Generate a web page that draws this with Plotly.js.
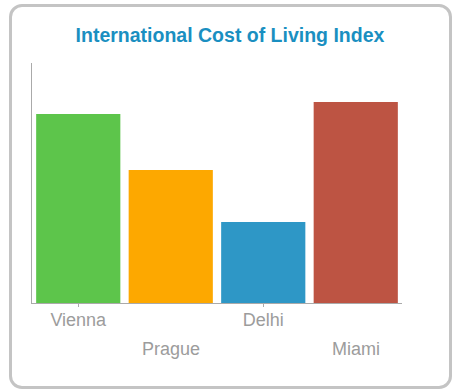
<!DOCTYPE html>
<html>
<head>
<meta charset="utf-8">
<script src="https://cdn.plot.ly/plotly-3.0.1.min.js"></script>
<style>
  html, body { margin: 0; padding: 0; background: #fff; }
  #wrap { position: relative; width: 460px; height: 392px; }
  #chart { position: absolute; left: 0; top: 0; width: 460px; height: 392px; }
  #frame { position: absolute; left: 9px; top: 4px; width: 437px; height: 379px;
           border: 3px solid #c4c4c4; border-radius: 13px; pointer-events: none; }
</style>
</head>
<body>
<div id="wrap">
  <div id="chart"></div>
  <div id="frame"></div>
</div>
<script>
const cities = ['Vienna', 'Prague', 'Delhi', 'Miami'];
const costIndex = [94.5, 66.5, 40.5, 100.5];
const barColors = ['#5dc54b', '#fda800', '#2e97c6', '#bd5443'];
const upperLabels = ['Vienna', 'Delhi'];
const lowerLabels = ['Prague', 'Miami'];

const trace = {
  type: 'bar',
  x: cities,
  y: costIndex,
  marker: { color: barColors, line: { width: 0 } },
  hoverinfo: 'x+y'
};

const layout = {
  width: 460,
  height: 392,
  margin: { l: 32, r: 58, t: 63, b: 89 },
  paper_bgcolor: '#ffffff',
  plot_bgcolor: '#ffffff',
  font: { family: '"Liberation Sans", Arial, Helvetica, sans-serif', color: '#9c9c9c', size: 18 },
  title: {
    text: '<b>International Cost of Living Index</b>',
    font: { family: '"Liberation Sans", Arial, Helvetica, sans-serif', size: 19.5, color: '#1a8fc1' },
    x: 0.5, xanchor: 'center',
    y: 1 - 35 / 392, yanchor: 'middle'
  },
  bargap: 0.09,
  showlegend: false,
  xaxis: {
    type: 'category',
    categoryorder: 'array',
    categoryarray: cities,
    tickmode: 'array',
    tickvals: upperLabels,
    ticktext: upperLabels,
    ticks: 'outside',
    ticklen: 3,
    tickcolor: '#aaaaaa',
    ticklabelstandoff: -3,
    tickfont: { size: 18, color: '#9c9c9c' },
    showline: true,
    linecolor: '#aaaaaa',
    linewidth: 1,
    showgrid: false,
    zeroline: false,
    fixedrange: true
  },
  yaxis: {
    range: [0, 120],
    showticklabels: false,
    ticks: '',
    showline: true,
    linecolor: '#aaaaaa',
    linewidth: 1,
    showgrid: false,
    zeroline: false,
    fixedrange: true
  },
  annotations: lowerLabels.map(name => ({
    x: name,
    xref: 'x',
    y: -(349 - 303) / 240,
    yref: 'paper',
    text: name,
    showarrow: false,
    xanchor: 'center',
    yanchor: 'middle',
    font: { size: 18, color: '#9c9c9c' }
  }))
};

Plotly.newPlot('chart', [trace], layout, { displayModeBar: false, staticPlot: true });
</script>
</body>
</html>
